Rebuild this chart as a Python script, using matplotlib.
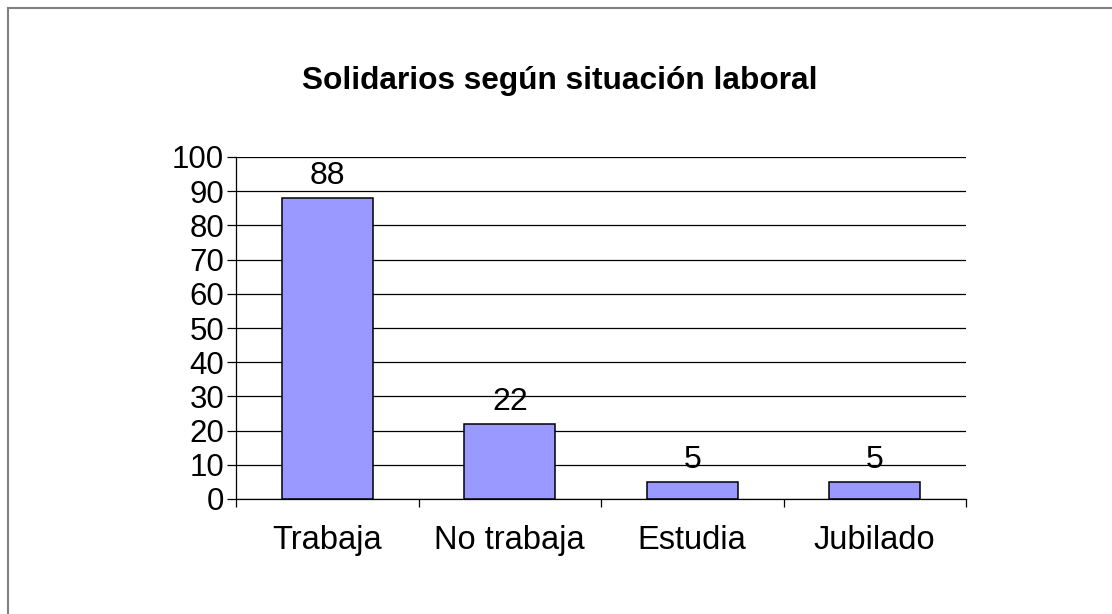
import matplotlib
matplotlib.use("Agg")
import matplotlib.pyplot as plt
from matplotlib.lines import Line2D
import numpy as np

categories = ["Trabaja", "No trabaja", "Estudia", "Jubilado"]
values = [88, 22, 5, 5]
yticks = [0, 10, 20, 30, 40, 50, 60, 70, 80, 90, 100]

plt.rcParams['font.family'] = ['Liberation Sans', 'DejaVu Sans']

W, H = 1112, 614
fig = plt.figure(figsize=(W / 100, H / 100), dpi=100)
fig.patch.set_facecolor("white")

ax = fig.add_axes([236 / W, 1 - 499 / H, (966 - 236) / W, (499 - 157) / H])

x = np.arange(len(categories))
ax.bar(x, values, width=0.5, color="#9999FF", edgecolor="black", linewidth=1.1, zorder=3)
for xi, v in zip(x, values):
    ax.annotate(str(v), (xi, v), xytext=(0, 10), textcoords="offset points",
                ha="center", va="baseline", fontsize=23, zorder=4)

ax.set_xlim(-0.5, len(categories) - 0.5)
ax.set_ylim(0, 100)
ax.set_yticks(yticks)
ax.set_yticklabels([str(t) for t in yticks], fontsize=22.5)
ax.yaxis.grid(True, color="black", linewidth=0.9, zorder=0)
ax.set_axisbelow(True)

ax.set_xticks(x)
ax.set_xticklabels(categories, fontsize=23.5)
ax.set_xticks(np.arange(-0.5, len(categories), 1.0), minor=True)
ax.tick_params(axis="x", which="major", length=0, pad=19)
ax.tick_params(axis="x", which="minor", length=6, width=0.9, direction="out")
ax.tick_params(axis="y", length=6.5, width=0.9, direction="out", pad=2)

for s in ["top", "right"]:
    ax.spines[s].set_visible(False)
for s in ["left", "bottom"]:
    ax.spines[s].set_linewidth(0.9)
    ax.spines[s].set_color("black")

fig.text(560 / W, 1 - 89 / H, "Solidarios según situación laboral",
         ha="center", va="baseline", fontsize=22.8, fontweight="bold")

# outer frame (top and left edges visible)
fig.add_artist(Line2D([7.5 / W, 1.0], [1 - 7.5 / H, 1 - 7.5 / H], transform=fig.transFigure,
                      color="#808080", linewidth=1.5))
fig.add_artist(Line2D([7.5 / W, 7.5 / W], [0.0, 1 - 7.5 / H], transform=fig.transFigure,
                      color="#808080", linewidth=1.5))

fig.savefig("out.png", dpi=100, facecolor="white")
